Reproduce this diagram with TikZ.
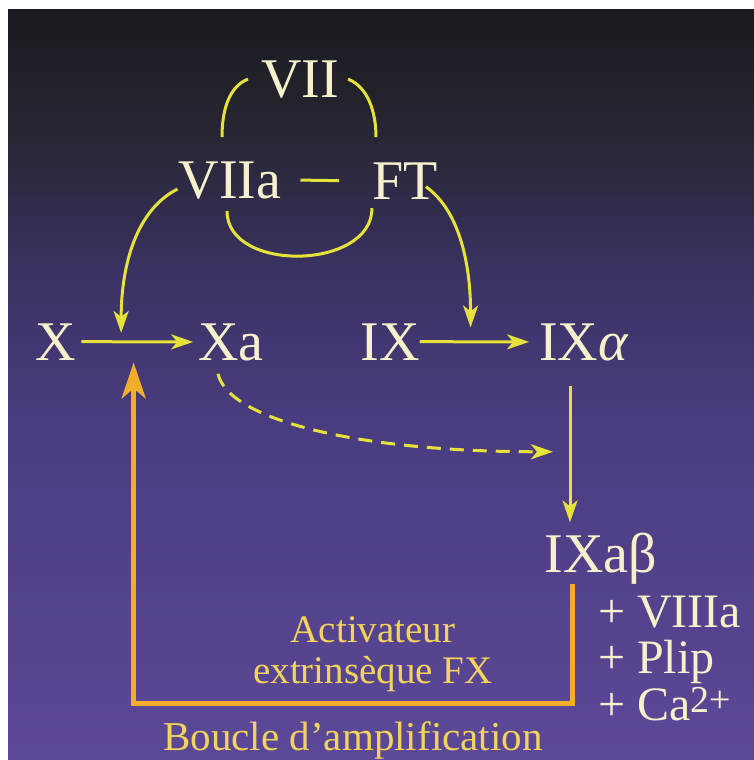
\documentclass[tikz,border=0pt]{standalone}
\usepackage{fontspec}
\setmainfont{Liberation Serif}
\usetikzlibrary{arrows.meta}
\definecolor{yel}{HTML}{E6E23A}
\definecolor{labc}{HTML}{F6F1CC}
\definecolor{goldc}{HTML}{F2D45A}
\definecolor{orng}{HTML}{F2AE2A}
\definecolor{cbot}{HTML}{5C4898}
\definecolor{cmid}{HTML}{4A3C80}
\definecolor{cmid2}{HTML}{3A3262}
\definecolor{cup}{HTML}{262530}
\definecolor{ctop}{HTML}{1A1B20}
\pgfdeclareverticalshading{bgshade}{100bp}{color(0bp)=(cbot); color(25bp)=(cbot); color(47.5bp)=(cmid); color(57.5bp)=(cmid2); color(67.5bp)=(cup); color(75bp)=(ctop); color(100bp)=(ctop)}
\tikzset{
  lab/.style={text=labc, font=\fontsize{56}{60}\selectfont, inner sep=0pt, anchor=base},
  side/.style={text=labc, font=\fontsize{48}{52}\selectfont, inner sep=0pt, anchor=base west},
  goldtxt/.style={text=goldc, font=\fontsize{39}{42}\selectfont, inner sep=0pt, anchor=base},
  yline/.style={draw=yel, line width=3pt},
  yarr/.style={yline, -{Stealth[length=22pt,width=15pt,inset=6pt]}},
  oarr/.style={draw=orng, line width=5pt, -{Stealth[length=36pt,width=24pt,inset=10pt]}}
}
\begin{document}
\begin{tikzpicture}[x=1pt,y=-1pt]
\useasboundingbox (0,0) rectangle (754,760);
\fill[white] (0,0) rectangle (754,760);
\shade[shading=bgshade] (8,10) rectangle (754,760);

% labels
\node[lab] (VII) at (300,97) {VII};
\node[lab] (VIIa) at (230,198) {VIIa};
\node[lab] (FT) at (405,199) {FT};
\node[lab] (X) at (56,360) {X};
\node[lab] (Xa) at (231,360) {Xa};
\node[lab] (IX) at (390,360) {IX};
\node[lab] (IXal) at (584,360) {IX\textit{α}};
\node[lab] (IXab) at (601,572) {IXaβ};
\node[side] (s1) at (598,627) {+ VIIIa};
\node[side] (s2) at (598,673) {+ Plip};
\node[side] (s3) at (598,720) {+ Ca\raisebox{8pt}{\fontsize{38}{38}\selectfont 2+}};
\node[goldtxt] (act1) at (373,642) {Activateur};
\node[goldtxt] (act2) at (373,683) {extrinsèque FX};
\node[goldtxt, font=\fontsize{41}{44}\selectfont] (bcl) at (353,750) {Boucle d’amplification};

% VII <-> VIIa-FT arcs
\draw[yline] ([xshift=-13pt]VII.west) .. controls +(-20,8) and +(0,-25) .. ([xshift=-8pt,yshift=24pt]VIIa.north);
\draw[yline] ([xshift=9pt]VII.east) .. controls +(20,8) and +(0,-25) .. ([xshift=-29pt,yshift=25pt]FT.north);
\draw[yline] ([xshift=-3pt,yshift=-12pt]VIIa.south) .. controls +(0,62) and +(0,62) .. ([xshift=-33pt,yshift=-9pt]FT.south);
\draw[yline] ([xshift=19pt]VIIa.east) -- ([xshift=-33pt]FT.west);

% activation arrows
\draw[yarr] ([xshift=-1pt,yshift=-9pt]VIIa.west) .. controls +(-40,20) and +(0,-70) .. ([xshift=-77pt,yshift=9pt]Xa.west);
\draw[yarr] ([xshift=-12pt,yshift=-6pt]FT.east) .. controls +(35,25) and +(0,-60) .. ([xshift=-68.5pt,yshift=14.5pt]IXal.west);

\draw[yarr, shorten <=5pt, shorten >=5pt] (X.east) -- (Xa.west);
\draw[yarr, shorten >=10pt] (IX.east) -- (IXal.west);

\draw[yarr, dash pattern=on 14pt off 9pt] ([xshift=-13pt,yshift=-13pt]Xa.south) .. controls +(10,45) and +(-200,0) .. ([xshift=-31pt,yshift=-91pt]IXal.south);
\draw[yarr] ([xshift=-14pt,yshift=-25pt]IXal.south) -- ([xshift=-31pt,yshift=10pt]IXab.north);

% amplification loop
\draw[oarr] ([xshift=-29pt]IXab.south) -- ++(0,119) -| ([xshift=-64.5pt,yshift=-20.5pt]Xa.west);
\end{tikzpicture}
\end{document}
